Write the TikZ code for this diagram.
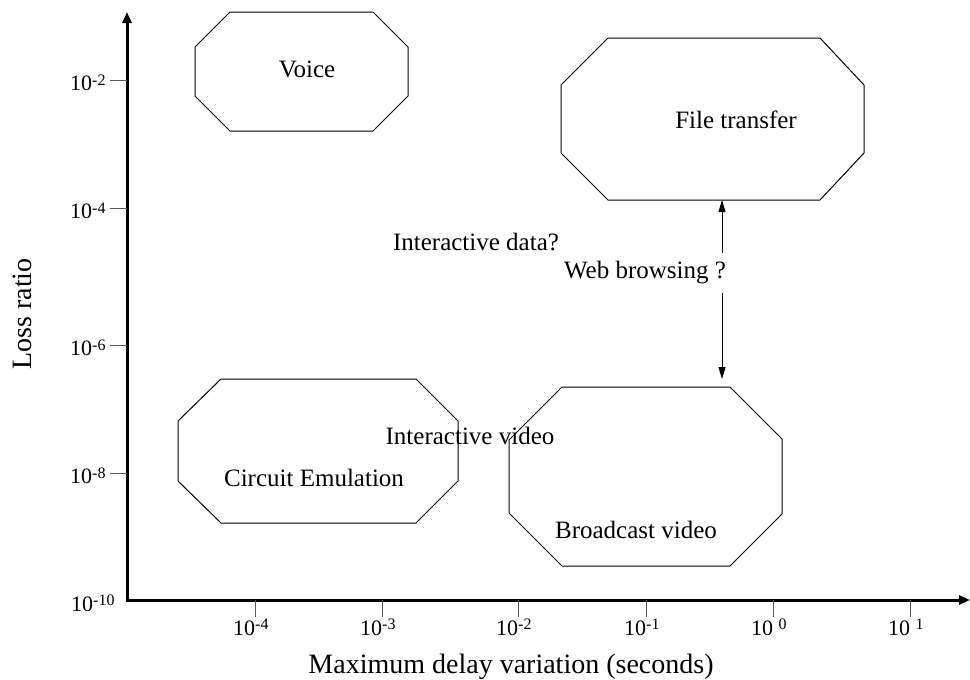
\documentclass[tikz,border=0pt]{standalone}
\usepackage{fontspec}
\setmainfont{Liberation Serif}
\usetikzlibrary{arrows.meta}
\newcommand\tlab[2]{10#1\raisebox{5.5pt}{\fontsize{16}{16}\selectfont #2}}
\begin{document}
\begin{tikzpicture}[x=1pt,y=-1pt,
  octa/.style={draw=black, line width=1pt, line join=miter},
  lbl/.style={font=\fontsize{25}{30}\selectfont, inner sep=0pt},
  ticklbl/.style={font=\fontsize{22}{26}\selectfont, inner sep=0pt, anchor=base west},
  tickmark/.style={draw=black!65, line width=1pt},
  axis/.style={line width=3pt, line join=miter, {Triangle[length=11pt,width=9pt]}-{Triangle[length=11pt,width=9pt]}},
  dbl/.style={line width=1pt, {Triangle[length=12pt,width=7pt]}-{Triangle[length=12pt,width=7pt]}},
  title/.style={font=\fontsize{28}{34}\selectfont, inner sep=0pt}]
\useasboundingbox (0,0) rectangle (970,680);

% axes
\coordinate (ytop) at (127,12);
\coordinate (orig) at (127,600);
\coordinate (xend) at (970,600);
\draw[axis] (ytop) -- (orig) -- (xend);

% y ticks
\foreach \yy/\e [count=\i] in {80/-2,208/-4,345/-6,473/-8} {
  \draw[tickmark] (110,\yy) -- (127,\yy);
  \node[ticklbl] (yl\i) at (70,\yy+10.5) {\tlab{}{\e}};
}
\node[ticklbl] (yl5) at (71,611) {\tlab{}{-10}};

% x ticks
\foreach \xx/\e [count=\i] in {255/-4,382/-3,518/-2,646/-1} {
  \draw[tickmark] (\xx,600) -- (\xx,617);
  \node[ticklbl] (xl\i) at (\xx-22,635) {\tlab{}{\e}};
}
\draw[tickmark] (773,600) -- (773,617);
\node[ticklbl] (xl5) at (751,635) {\tlab{ }{0}};
\draw[tickmark] (910,600) -- (910,617);
\node[ticklbl] (xl6) at (888,635) {\tlab{ }{1}};

% axis titles
\node[title, anchor=base] (xt) at (511,673) {Maximum delay variation (seconds)};
\node[title, rotate=90] (yt) at (22,314) {Loss ratio};

% octagons
\draw[octa] (230,12) -- (373,12) -- (408,47) -- (408,96) -- (373,131) -- (230,131) -- (195,96) -- (195,47) -- cycle;
\draw[octa] (608,38) -- (820,38) -- (864,85) -- (864,153) -- (820,200) -- (608,200) -- (561,153) -- (561,85) -- cycle;
\draw[octa] (221,379) -- (416,379) -- (458,421) -- (458,481) -- (416,523) -- (221,523) -- (178,481) -- (178,421) -- cycle;
\draw[octa] (562,387) -- (730,387) -- (782,439) -- (782,514) -- (730,566) -- (562,566) -- (509,513) -- (509,440) -- cycle;

% labels
\node[lbl] (voice) at (307,69) {Voice};
\node[lbl] (ft) at (736,120) {File transfer};
\node[lbl] (idata) at (476,242) {Interactive data?};
\node[lbl] (ivideo) at (470,436) {Interactive video};
\node[lbl] (circ) at (314,478) {Circuit Emulation};
\node[lbl] (bcast) at (636,530) {Broadcast video};

% web browsing arrow
\coordinate (ftb) at (722,200);
\coordinate (bvt) at (722,379);
\draw[dbl] (ftb) -- (bvt);
\node[lbl, fill=white, inner ysep=9pt, inner xsep=1pt] (wb) at (645,273) {Web browsing ?};
\end{tikzpicture}
\end{document}
